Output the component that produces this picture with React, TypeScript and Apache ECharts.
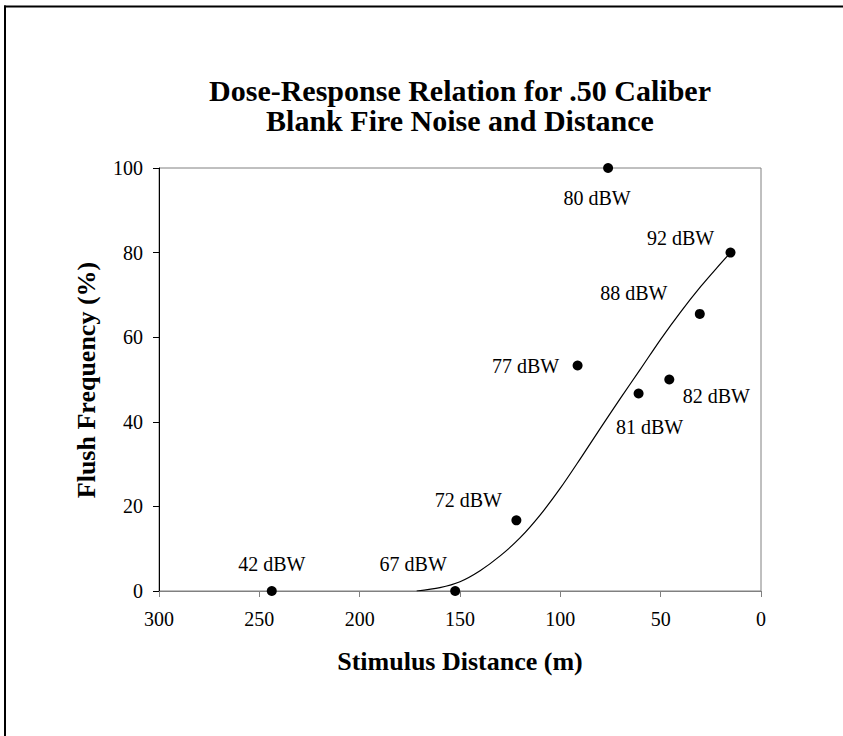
import React, { useEffect, useRef } from "react";
import * as echarts from "echarts";

// Observed data: stimulus distance (m) vs flush frequency (%), labelled by noise level
const noiseLevels = ["42 dBW", "67 dBW", "72 dBW", "77 dBW", "80 dBW", "81 dBW", "82 dBW", "88 dBW", "92 dBW"];
const distances = [243.8, 152.4, 121.9, 91.4, 76.2, 61.0, 45.7, 30.5, 15.2];
const flushFreq = [0, 0, 16.7, 53.3, 100, 46.7, 50.0, 65.5, 80.0];

// Fitted dose-response curve
const curveX = [171.6, 160, 150, 140, 130, 120, 110, 100, 90, 80, 70, 60, 50, 40, 30, 22, 15.2];
const curveY = [0, 0.8, 2.2, 4.8, 8.3, 12.6, 18, 24.3, 31.3, 38.5, 45.6, 52.5, 59.5, 66.0, 72.0, 76.4, 80];

// Axis ticks
const xTicks = [0, 50, 100, 150, 200, 250, 300];
const yTicks = [0, 20, 40, 60, 80, 100];

// Label placement (pixel offsets from each point)
const labelOffsets: number[][] = [
  [0, -27], [-42, -27], [-48, -20], [-52, 0], [-11, 30], [11, 34], [47, 16], [-66, -21], [-50, -15],
];

const FONT = "'Liberation Serif', 'Times New Roman', serif";

export default function App() {
  const ref = useRef<HTMLDivElement>(null);
  useEffect(() => {
    if (!ref.current) return;
    const chart = echarts.init(ref.current, undefined, { renderer: "svg" });
    const points = distances.map((d, i) => ({
      value: [d, flushFreq[i]],
      label: {
        show: true,
        position: "inside",
        offset: labelOffsets[i],
        formatter: noiseLevels[i],
        color: "#000",
        opacity: 1,
        fontSize: 20,
        fontFamily: FONT,
      },
    }));
    chart.setOption({
      animation: false,
      backgroundColor: "#fff",
      title: {
        text: "Dose-Response Relation for .50 Caliber\nBlank Fire Noise and Distance",
        left: 460,
        top: 75,
        textAlign: "center",
        padding: 0,
        textStyle: {
          fontFamily: FONT,
          fontSize: 30,
          fontWeight: "bold",
          color: "#000",
          lineHeight: 30,
        },
      },
      grid: {
        left: 159,
        right: 82,
        top: 168,
        bottom: 145,
        show: true,
        borderColor: "#808080",
        borderWidth: 1,
        containLabel: false,
      },
      xAxis: {
        type: "value",
        min: xTicks[0],
        max: xTicks[xTicks.length - 1],
        interval: 50,
        inverse: true,
        splitLine: { show: false },
        axisLine: { show: true, onZero: false, lineStyle: { color: "#808080", width: 1 } },
        axisTick: { show: true, inside: false, length: 6, lineStyle: { color: "#808080" } },
        axisLabel: { color: "#000", fontSize: 20, fontFamily: FONT, margin: 18 },
      },
      yAxis: {
        type: "value",
        min: yTicks[0],
        max: yTicks[yTicks.length - 1],
        interval: 20,
        splitLine: { show: false },
        axisLine: { show: true, onZero: false, lineStyle: { color: "#000", width: 1 } },
        axisTick: { show: true, inside: false, length: 6, lineStyle: { color: "#000" } },
        axisLabel: { color: "#000", fontSize: 20, fontFamily: FONT, margin: 16 },
      },
      graphic: [
        {
          type: "line",
          shape: { x1: 4, y1: 6.5, x2: 843, y2: 6.5 },
          style: { stroke: "#000", lineWidth: 2 },
          silent: true,
        },
        {
          type: "line",
          shape: { x1: 5, y1: 5.5, x2: 5, y2: 736 },
          style: { stroke: "#000", lineWidth: 2 },
          silent: true,
        },
        {
          type: "text",
          x: 460,
          y: 661,
          style: {
            text: "Stimulus Distance (m)",
            font: `bold 26px ${FONT}`,
            fill: "#000",
            textAlign: "center",
            textVerticalAlign: "middle",
          },
        },
        {
          type: "text",
          x: 86,
          y: 380,
          rotation: Math.PI / 2,
          style: {
            text: "Flush Frequency (%)",
            font: `bold 26px ${FONT}`,
            fill: "#000",
            textAlign: "center",
            textVerticalAlign: "middle",
          },
        },
      ],
      series: [
        {
          type: "line",
          data: curveX.map((x, i) => [x, curveY[i]]),
          smooth: 0.3,
          showSymbol: false,
          symbol: "none",
          lineStyle: { color: "#000", width: 1.2 },
          z: 2,
        },
        {
          type: "scatter",
          data: points,
          symbol: "circle",
          symbolSize: 10,
          itemStyle: { color: "#000", opacity: 1 },
          z: 3,
        },
      ],
    });
    return () => chart.dispose();
  }, []);
  return (
    <div
      ref={ref}
      style={{ position: "absolute", left: 0, top: 0, width: 843, height: 736, background: "#fff" }}
    />
  );
}
